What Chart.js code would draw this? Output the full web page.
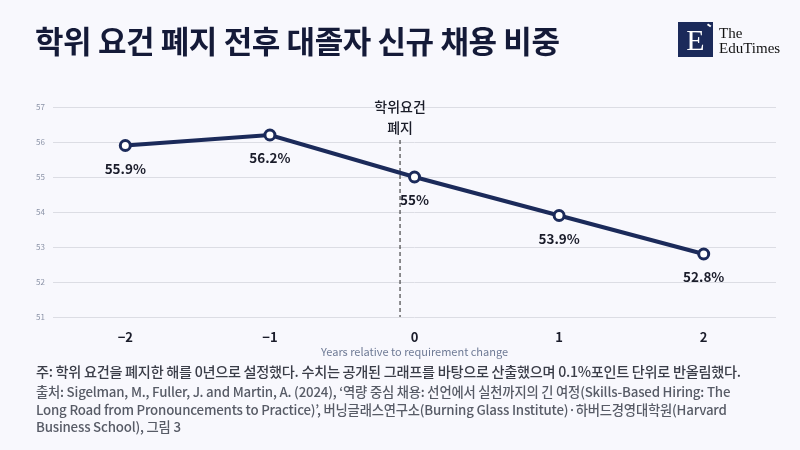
<!DOCTYPE html>
<html><head><meta charset="utf-8">
<script src="https://cdn.jsdelivr.net/npm/chart.js@4"></script>
<style>
html,body{margin:0;padding:0;background:#f8f8fd;}
#wrap{position:relative;width:800px;height:450px;overflow:hidden;background:#f8f8fd;font-family:"Noto Sans CJK KR","Noto Sans",sans-serif;}
#c{position:absolute;left:0;top:0;}
.t{position:absolute;white-space:nowrap;}
#title{left:35px;top:17px;font-size:31px;font-weight:700;color:#141a38;letter-spacing:-0.4px;}
#logo{left:678px;top:22px;width:35px;height:35px;background:#1b2a5a;}
#logoE{position:absolute;left:0;top:0;width:35px;height:35px;line-height:35px;text-align:center;color:#fff;font-family:"Liberation Serif","DejaVu Serif",serif;font-size:30px;}
#logoTick{position:absolute;right:3px;top:2px;width:4px;height:4px;border-top:2px solid #fff;transform:rotate(35deg);}
#logoT{left:719px;top:26px;font-family:"Liberation Serif","DejaVu Serif",serif;font-size:15px;line-height:15px;color:#111;font-weight:500;}
#note{left:36px;top:361px;font-size:14.2px;color:#3a3d48;letter-spacing:-0.3px;font-weight:500;}
#src{left:36px;top:383px;font-size:13.3px;line-height:17.5px;color:#575b66;white-space:normal;width:712px;letter-spacing:-0.2px;font-weight:500;}
</style></head>
<body>
<div id="wrap">
<canvas id="c" width="800" height="450"></canvas>
<div class="t" id="title">학위 요건 폐지 전후 대졸자 신규 채용 비중</div>
<div class="t" id="logo"><div id="logoE">E</div><div id="logoTick"></div></div>
<div class="t" id="logoT">The<br>EduTimes</div>
<div class="t" id="note">주: 학위 요건을 폐지한 해를 0년으로 설정했다. 수치는 공개된 그래프를 바탕으로 산출했으며 0.1%포인트 단위로 반올림했다.</div>
<div class="t" id="src">출처: Sigelman, M., Fuller, J. and Martin, A. (2024), ‘역량 중심 채용: 선언에서 실천까지의 긴 여정(Skills-Based Hiring: The Long Road from Pronouncements to Practice)’, 버닝글래스연구소(Burning Glass Institute)·하버드경영대학원(Harvard Business School), 그림 3</div>
</div>
<script>
const years = [-2, -1, 0, 1, 2];
const shares = [55.9, 56.2, 55.0, 53.9, 52.8];
const valueLabels = ["55.9%", "56.2%", "55%", "53.9%", "52.8%"];
const xTickLabels = {"-2":"−2","-1":"−1","0":"0","1":"1","2":"2"};
const yTicks = [51, 52, 53, 54, 55, 56, 57];
const changeAt = -0.1;
const changeLabel = ["학위요건", "폐지"];
const xTitle = "Years relative to requirement change";

const FONT = '"Noto Sans CJK KR","Noto Sans",sans-serif';

const overlay = {
  id: 'overlay',
  beforeDatasetsDraw(chart) {
    const {ctx, chartArea, scales} = chart;
    const x = scales.x.getPixelForValue(changeAt);
    ctx.save();
    ctx.strokeStyle = '#222';
    ctx.lineWidth = 1;
    ctx.setLineDash([4, 3]);
    ctx.beginPath();
    ctx.moveTo(x, chartArea.top + 33);
    ctx.lineTo(x, chartArea.bottom);
    ctx.stroke();
    ctx.setLineDash([]);
    ctx.fillStyle = '#1a1c28';
    ctx.font = '500 14px ' + FONT;
    ctx.textAlign = 'center';
    ctx.textBaseline = 'middle';
    ctx.fillText(changeLabel[0], x, chartArea.top);
    ctx.fillText(changeLabel[1], x, chartArea.top + 21);
    ctx.restore();
    // x tick labels from the x scale
    ctx.save();
    ctx.fillStyle = '#1a1c2a';
    ctx.font = '700 13px ' + FONT;
    ctx.textAlign = 'center';
    ctx.textBaseline = 'middle';
    scales.x.ticks.forEach(t => {
      ctx.fillText(xTickLabels[String(t.value)], scales.x.getPixelForValue(t.value), chartArea.bottom + 20);
    });
    ctx.restore();
    // x axis title
    ctx.save();
    ctx.fillStyle = '#6e7a95';
    ctx.font = '400 11px ' + FONT;
    ctx.textAlign = 'center';
    ctx.textBaseline = 'middle';
    ctx.fillText(xTitle, (chartArea.left + chartArea.right) / 2, chartArea.bottom + 35);
    ctx.restore();
  },
  afterDatasetsDraw(chart) {
    const {ctx} = chart;
    const meta = chart.getDatasetMeta(0);
    ctx.save();
    ctx.fillStyle = '#1a1c2a';
    ctx.font = '700 13.5px ' + FONT;
    ctx.textAlign = 'center';
    ctx.textBaseline = 'middle';
    meta.data.forEach((pt, i) => {
      ctx.fillText(valueLabels[i], pt.x, pt.y + 23);
    });
    ctx.restore();
  }
};

new Chart(document.getElementById('c'), {
  type: 'line',
  data: {
    datasets: [{
      data: years.map((y, i) => ({x: y, y: shares[i]})),
      borderColor: '#1b2a5a',
      borderWidth: 4,
      pointRadius: 5,
      pointBorderWidth: 3,
      pointBackgroundColor: '#ffffff',
      pointBorderColor: '#1b2a5a',
      tension: 0
    }]
  },
  options: {
    responsive: false,
    animation: false,
    layout: {padding: {left: 0, right: 24, top: 107, bottom: 133}},
    plugins: {legend: {display: false}, tooltip: {enabled: false}},
    scales: {
      x: {
        type: 'linear', min: -2.5, max: 2.5, display: false,
        afterBuildTicks(axis) { axis.ticks = years.map(v => ({value: v})); }
      },
      y: {
        min: 51, max: 57,
        afterBuildTicks(axis) { axis.ticks = yTicks.map(v => ({value: v})); },
        afterFit(axis) { axis.width = 53; },
        grid: {color: '#dcdde4', drawTicks: false, lineWidth: 1},
        border: {display: false},
        ticks: {padding: 8, color: '#8b93a7', font: {family: FONT, size: 8}}
      }
    }
  },
  plugins: [overlay]
});
</script>
</body></html>
